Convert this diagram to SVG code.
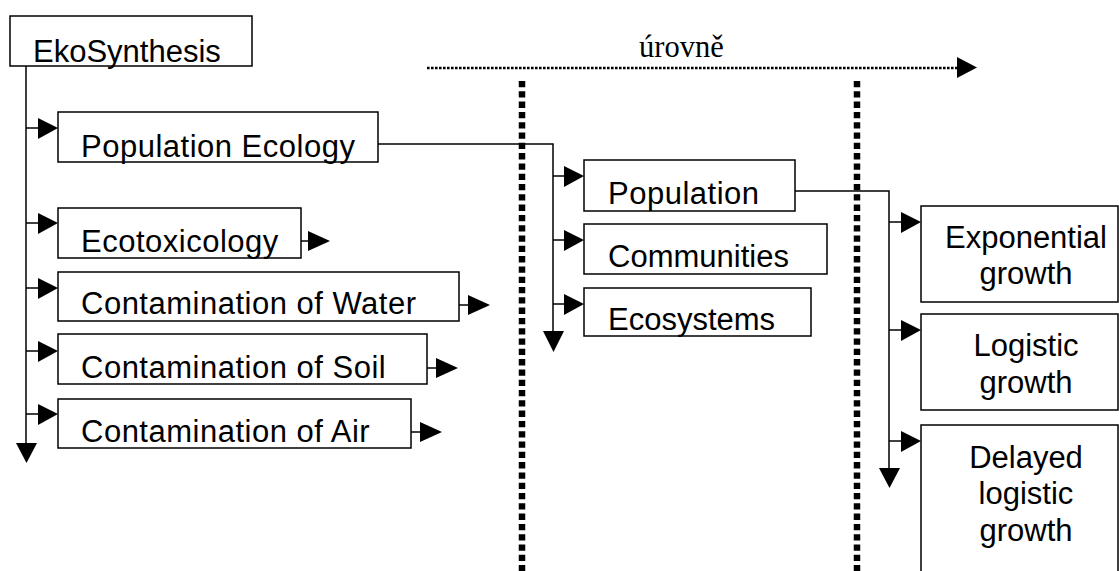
<svg xmlns="http://www.w3.org/2000/svg" width="1119" height="571" viewBox="0 0 1119 571">
<style>
.box{fill:#fff;stroke:#000;stroke-width:1.5}
.t{font-family:"Liberation Sans",Arial,sans-serif;font-size:31px;fill:#000}
.tc{font-family:"Liberation Sans",Arial,sans-serif;font-size:31px;fill:#000;text-anchor:middle}
.ln{fill:none;stroke:#000;stroke-width:1.5}
.ah{fill:#000;stroke:none}
.vdot{fill:none;stroke:#000;stroke-width:6.5;stroke-dasharray:6.3 4}
.hdot{fill:none;stroke:#000;stroke-width:2.5;stroke-dasharray:2.6 1.4}
</style>
<rect width="1119" height="571" fill="#fff"/>
<g id="levels">
<line class="vdot" x1="522" y1="81" x2="522" y2="571"/>
<line class="vdot" x1="857" y1="81" x2="857" y2="571"/>
<line class="hdot" x1="427" y1="68" x2="957" y2="68"/>
<polygon class="ah" points="957,57 977,67.5 957,78"/>
<text x="639" y="57" style="font-family:'Liberation Serif','Times New Roman',serif;font-size:30.5px;fill:#000">úrovně</text>
</g>
<g id="connectors">
<line class="ln" x1="26" y1="66" x2="26" y2="445"/>
<polygon class="ah" points="16,443 37,443 26.5,463"/>
<line class="ln" x1="26" y1="128" x2="40" y2="128"/>
<polygon class="ah" points="38,118 58,128 38,139"/>
<line class="ln" x1="26" y1="223" x2="40" y2="223"/>
<polygon class="ah" points="38,213 58,223 38,234"/>
<line class="ln" x1="26" y1="288" x2="40" y2="288"/>
<polygon class="ah" points="38,278 58,288 38,299"/>
<line class="ln" x1="26" y1="351" x2="40" y2="351"/>
<polygon class="ah" points="38,341 58,351 38,362"/>
<line class="ln" x1="26" y1="414" x2="40" y2="414"/>
<polygon class="ah" points="38,404 58,414 38,425"/>
<line class="ln" x1="298" y1="241" x2="310" y2="241"/>
<polygon class="ah" points="308,231 330,241 308,251"/>
<line class="ln" x1="457" y1="305" x2="470" y2="305"/>
<polygon class="ah" points="468,295 490,305 468,315"/>
<line class="ln" x1="425" y1="368" x2="438" y2="368"/>
<polygon class="ah" points="436,358 458,368 436,378"/>
<line class="ln" x1="409" y1="432" x2="422" y2="432"/>
<polygon class="ah" points="420,422 442,432 420,442"/>
<polyline class="ln" points="377,144 553,144 553,333"/>
<polygon class="ah" points="543,331 564,331 553.5,352"/>
<line class="ln" x1="553" y1="176" x2="566" y2="176"/>
<polygon class="ah" points="564,166 584,176 564,187"/>
<line class="ln" x1="553" y1="240" x2="566" y2="240"/>
<polygon class="ah" points="564,230 584,240 564,251"/>
<line class="ln" x1="553" y1="304" x2="566" y2="304"/>
<polygon class="ah" points="564,294 584,304 564,315"/>
<polyline class="ln" points="793,191 889,191 889,470"/>
<polygon class="ah" points="879,468 900,468 889.5,488"/>
<line class="ln" x1="889" y1="222" x2="903" y2="222"/>
<polygon class="ah" points="901,212 921,222 901,233"/>
<line class="ln" x1="889" y1="330" x2="903" y2="330"/>
<polygon class="ah" points="901,320 921,330 901,341"/>
<line class="ln" x1="889" y1="441" x2="903" y2="441"/>
<polygon class="ah" points="901,431 921,441 901,452"/>
</g>
<g id="ekosynthesis">
<rect class="box" x="10" y="16" width="242" height="50"/>
<text class="t" x="33" y="62">EkoSynthesis</text>
</g>
<g id="population-ecology">
<rect class="box" x="58" y="112" width="320" height="50"/>
<text class="t" x="81" y="157" style="letter-spacing:0.5px">Population Ecology</text>
</g>
<g id="ecotoxicology">
<rect class="box" x="58" y="208" width="243" height="50"/>
<text class="t" x="81" y="252" style="letter-spacing:0.5px">Ecotoxicology</text>
</g>
<g id="contamination-water">
<rect class="box" x="58" y="272" width="401" height="49"/>
<text class="t" x="81" y="314" style="letter-spacing:0.5px">Contamination of Water</text>
</g>
<g id="contamination-soil">
<rect class="box" x="58" y="334" width="369" height="50"/>
<text class="t" x="81" y="378" style="letter-spacing:0.5px">Contamination of Soil</text>
</g>
<g id="contamination-air">
<rect class="box" x="58" y="399" width="353" height="49"/>
<text class="t" x="81" y="442" style="letter-spacing:0.5px">Contamination of Air</text>
</g>
<g id="population">
<rect class="box" x="584" y="160" width="211" height="51"/>
<text class="t" x="608" y="204" style="letter-spacing:0.5px">Population</text>
</g>
<g id="communities">
<rect class="box" x="584" y="224" width="243" height="50"/>
<text class="t" x="608" y="267">Communities</text>
</g>
<g id="ecosystems">
<rect class="box" x="584" y="288" width="227" height="48"/>
<text class="t" x="608" y="330">Ecosystems</text>
</g>
<g id="exponential-growth">
<rect class="box" x="921" y="206" width="197" height="96"/>
<text class="tc" x="1026" y="248">Exponential</text>
<text class="tc" x="1026" y="284">growth</text>
</g>
<g id="logistic-growth">
<rect class="box" x="921" y="314" width="197" height="96"/>
<text class="tc" x="1026" y="356">Logistic</text>
<text class="tc" x="1026" y="393">growth</text>
</g>
<g id="delayed-logistic-growth">
<rect class="box" x="921" y="425" width="197" height="160"/>
<text class="tc" x="1026" y="468">Delayed</text>
<text class="tc" x="1026" y="504">logistic</text>
<text class="tc" x="1026" y="541">growth</text>
</g>
</svg>
